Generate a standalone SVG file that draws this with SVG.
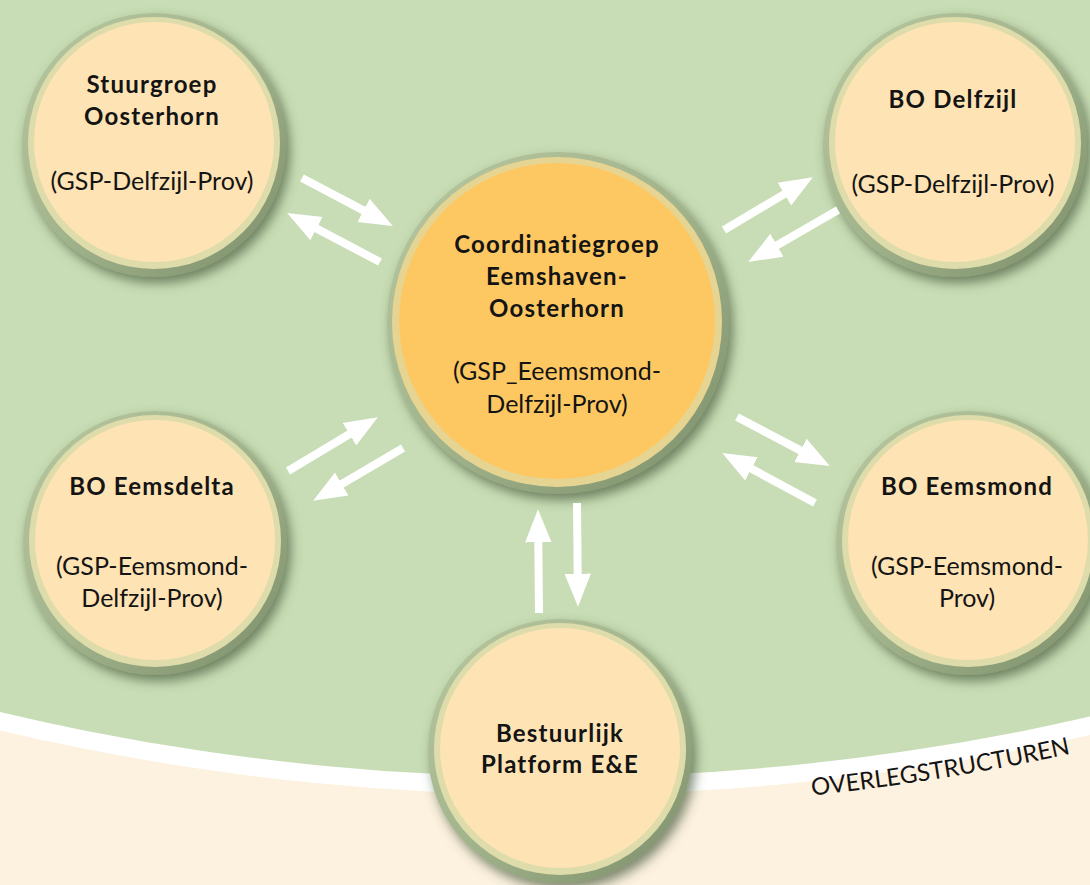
<svg xmlns="http://www.w3.org/2000/svg" width="1090" height="885" viewBox="0 0 1090 885">
<style>
.t{font-family:Lato,"Liberation Sans",sans-serif;fill:#141414;text-anchor:middle}
.b{font-weight:bold;font-size:24px;letter-spacing:1.2px}
.r{font-size:25px}
.ring{fill:url(#ringg)}
.pale{fill:#dedcab}
.fill{fill:#fee3b4}
.cfill{fill:#fdc862}
.cpale{fill:#e6d592}
.arr{stroke:#ffffff;stroke-width:8;fill:none;marker-end:url(#head)}
</style>
<defs>
<linearGradient id="ringg" x1="0" y1="0" x2="1" y2="1">
<stop offset="0" stop-color="#b8c8a0"/>
<stop offset="0.5" stop-color="#a2b48c"/>
<stop offset="1" stop-color="#7b8e69"/>
</linearGradient>
<filter id="sh" x="-20%" y="-20%" width="140%" height="140%">
<feDropShadow dx="4" dy="6" stdDeviation="6" flood-color="#44593a" flood-opacity="0.7"/>
</filter>
<marker id="head" viewBox="0 -2 5 4" markerWidth="5" markerHeight="4" refX="0.05" refY="0" orient="auto" markerUnits="strokeWidth">
<path d="M0,-1.65 L4.15,0 L0,1.65 z" fill="#ffffff"/>
</marker>
<path id="lbl" d="M800,796.6 A2432,2432 0 0 0 1100,747.2"/>
</defs>
<g id="background">
<rect x="0" y="0" width="1090" height="885" fill="#fdf1df"/>
<circle cx="555" cy="-1623" r="2418" fill="#ffffff"/>
<circle cx="555" cy="-1623" r="2400" fill="#c8ddb5"/>
<text class="t" font-size="24" style="text-anchor:start"><textPath href="#lbl" startOffset="12">OVERLEGSTRUCTUREN</textPath></text>
</g>
<g id="node-center">
<circle cx="558" cy="323" r="171" class="ring" filter="url(#sh)"/>
<circle cx="557" cy="322" r="165" class="cpale"/>
<circle cx="557" cy="321" r="158" class="cfill"/>
<text class="t b" x="557" y="253">Coordinatiegroep</text>
<text class="t b" x="557" y="285">Eemshaven-</text>
<text class="t b" x="557" y="317">Oosterhorn</text>
<text class="t r" x="557" y="380">(GSP_Eeemsmond-</text>
<text class="t r" x="557" y="413">Delfzijl-Prov)</text>
</g>
<g id="node-stuurgroep">
<circle cx="154" cy="145" r="132" class="ring" filter="url(#sh)"/>
<circle cx="154" cy="143" r="126" class="pale"/>
<circle cx="154" cy="142" r="120" class="fill"/>
<text class="t b" x="152" y="93">Stuurgroep</text>
<text class="t b" x="152" y="125">Oosterhorn</text>
<text class="t r" x="152" y="190">(GSP-Delfzijl-Prov)</text>
</g>
<g id="node-delfzijl">
<circle cx="955" cy="145" r="132" class="ring" filter="url(#sh)"/>
<circle cx="955" cy="143" r="126" class="pale"/>
<circle cx="955" cy="142" r="120" class="fill"/>
<text class="t b" x="953" y="108">BO Delfzijl</text>
<text class="t r" x="953" y="193">(GSP-Delfzijl-Prov)</text>
</g>
<g id="node-eemsdelta">
<circle cx="155" cy="543" r="132" class="ring" filter="url(#sh)"/>
<circle cx="155" cy="541" r="126" class="pale"/>
<circle cx="155" cy="540" r="120" class="fill"/>
<text class="t b" x="152" y="495">BO Eemsdelta</text>
<text class="t r" x="152" y="575">(GSP-Eemsmond-</text>
<text class="t r" x="152" y="607">Delfzijl-Prov)</text>
</g>
<g id="node-eemsmond">
<circle cx="968" cy="543" r="132" class="ring" filter="url(#sh)"/>
<circle cx="968" cy="541" r="126" class="pale"/>
<circle cx="968" cy="540" r="120" class="fill"/>
<text class="t b" x="967" y="495">BO Eemsmond</text>
<text class="t r" x="967" y="575">(GSP-Eemsmond-</text>
<text class="t r" x="967" y="607">Prov)</text>
</g>
<g id="node-bestuurlijk">
<circle cx="560" cy="751" r="132" class="ring" filter="url(#sh)"/>
<circle cx="560" cy="749" r="126" class="pale"/>
<circle cx="560" cy="748" r="120" class="fill"/>
<text class="t b" x="560" y="742">Bestuurlijk</text>
<text class="t b" x="560" y="773">Platform E&amp;E</text>
</g>
<g id="connectors">
<line class="arr" x1="302" y1="178" x2="363.8" y2="210.6"/>
<line class="arr" x1="380" y1="262" x2="316.2" y2="228.4"/>
<line class="arr" x1="724" y1="230" x2="784.7" y2="193.9"/>
<line class="arr" x1="838" y1="210" x2="776.6" y2="245.5"/>
<line class="arr" x1="288" y1="471" x2="349.7" y2="434"/>
<line class="arr" x1="403" y1="448" x2="341.4" y2="484.2"/>
<line class="arr" x1="737" y1="417" x2="800.8" y2="450.6"/>
<line class="arr" x1="815" y1="503" x2="751.1" y2="468.6"/>
<line class="arr" x1="539" y1="613" x2="538.3" y2="542"/>
<line class="arr" x1="577" y1="503" x2="577.7" y2="574"/>
</g>
</svg>
